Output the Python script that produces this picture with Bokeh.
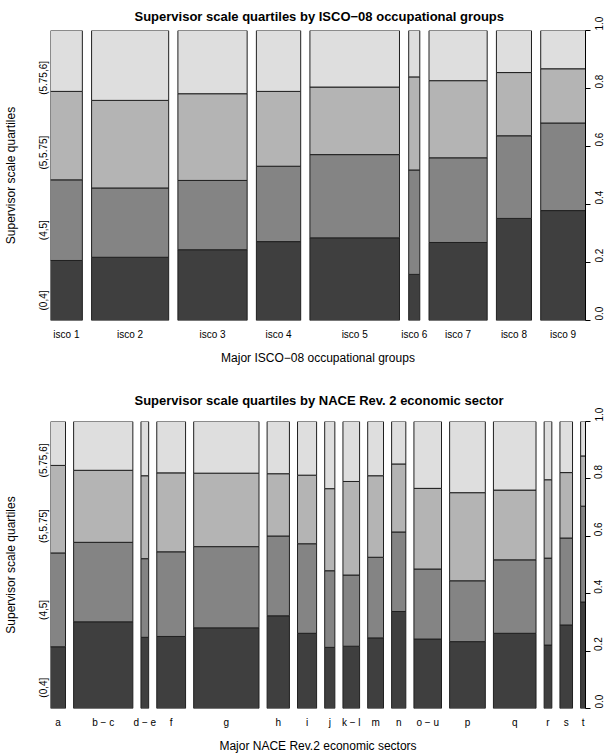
import math
from bokeh.plotting import figure
from bokeh.models import Range1d, LinearAxis, FixedTicker, PrintfTickFormatter
from bokeh.layouts import column
from bokeh.embed import file_html
from bokeh.resources import INLINE

# ---------------- data ----------------
quartile_labels = ["(0,4]", "(4,5]", "(5,5.75]", "(5.75,6]"]
quartile_colors = ["#3f3f3f", "#848484", "#b4b4b4", "#dedede"]

isco_groups = ["isco 1", "isco 2", "isco 3", "isco 4", "isco 5",
               "isco 6", "isco 7", "isco 8", "isco 9"]
isco_share = [0.069, 0.167, 0.150, 0.096, 0.194, 0.024, 0.126, 0.076, 0.097]
isco_q1 = [0.207, 0.218, 0.244, 0.272, 0.285, 0.159, 0.269, 0.352, 0.379]
isco_q2 = [0.278, 0.239, 0.239, 0.260, 0.287, 0.360, 0.292, 0.285, 0.302]
isco_q3 = [0.305, 0.302, 0.299, 0.258, 0.233, 0.321, 0.266, 0.218, 0.187]
isco_q4 = [0.210, 0.241, 0.218, 0.210, 0.195, 0.160, 0.173, 0.145, 0.132]

nace_sectors = ["a", "b \u2212 c", "d \u2212 e", "f", "g", "h", "i", "j",
                "k \u2212 l", "m", "n", "o \u2212 u", "p", "q", "r", "s", "t"]
nace_share = [0.037, 0.146, 0.019, 0.071, 0.161, 0.055, 0.047, 0.025, 0.041,
              0.039, 0.035, 0.068, 0.088, 0.105, 0.019, 0.031, 0.012]
nace_q1 = [0.215, 0.302, 0.248, 0.251, 0.281, 0.323, 0.262, 0.213, 0.217,
           0.246, 0.338, 0.242, 0.233, 0.262, 0.221, 0.291, 0.371]
nace_q2 = [0.327, 0.277, 0.274, 0.295, 0.283, 0.278, 0.312, 0.267, 0.248,
           0.281, 0.277, 0.244, 0.212, 0.256, 0.303, 0.303, 0.334]
nace_q3 = [0.305, 0.251, 0.289, 0.275, 0.256, 0.217, 0.239, 0.286, 0.326,
           0.284, 0.237, 0.281, 0.307, 0.243, 0.273, 0.228, 0.175]
nace_q4 = [0.153, 0.170, 0.189, 0.179, 0.180, 0.182, 0.187, 0.234, 0.209,
           0.189, 0.148, 0.233, 0.248, 0.239, 0.203, 0.178, 0.120]

y_ticks = [0.0, 0.2, 0.4, 0.6, 0.8, 1.0]
FONT = "Liberation Sans"
OFF = 0.02
TXT = "black"


def spineplot(title, xlabel, cats, shares, qs, height, b_top, b_bottom,
              t_standoff, t_offset):
    n = len(cats)
    total = sum(shares)
    widths = [s / total for s in shares]
    lefts = []
    x = 0.0
    for w in widths:
        lefts.append(x)
        x += w + OFF
    rights = [l + w for l, w in zip(lefts, widths)]
    centers = [(l + r) / 2 for l, r in zip(lefts, rights)]
    xmax = 1 + OFF * (n - 1)

    p = figure(width=609, height=height, x_range=Range1d(0, xmax), y_range=Range1d(0, 1),
               output_backend="svg", toolbar_location=None,
               min_border_left=49, min_border_right=24,
               min_border_top=b_top, min_border_bottom=b_bottom)
    p.outline_line_color = None
    p.grid.visible = False

    cum = [0.0] * n
    for k in range(4):
        bottoms = list(cum)
        tops = [c + qs[k][i] for i, c in enumerate(cum)]
        if k == 3:
            tops = [1.0] * n
        p.quad(left=lefts, right=rights, bottom=bottoms, top=tops,
               fill_color=quartile_colors[k], line_color="#202020", line_width=1)
        cum = tops

    # title
    p.title.text = title
    p.title.align = "left"
    p.title.vertical_align = "top"
    p.title.offset = t_offset
    p.title.standoff = t_standoff
    p.title.text_font = FONT
    p.title.text_font_size = "13px"
    p.title.text_font_style = "bold"
    p.title.text_color = TXT

    # bottom axis: category labels at bar centres
    xa = p.xaxis[0]
    xa.ticker = FixedTicker(ticks=centers)
    xa.major_label_overrides = {c: lab for c, lab in zip(centers, cats)}
    xa.axis_line_color = None
    xa.major_tick_line_color = None
    xa.minor_tick_line_color = None
    xa.major_tick_out = 0
    xa.major_tick_in = 0
    xa.major_label_standoff = 8
    xa.major_label_text_font = FONT
    xa.major_label_text_font_size = "10px"
    xa.major_label_text_color = TXT
    xa.axis_label = xlabel
    xa.axis_label_text_font = FONT
    xa.axis_label_text_font_size = "12px"
    xa.axis_label_text_font_style = "normal"
    xa.axis_label_text_color = TXT
    xa.axis_label_standoff = 8

    # left axis: quartile labels at the middle of the first bar's segments
    first = [qs[k][0] for k in range(4)]
    mids = []
    c = 0.0
    for v in first:
        mids.append(c + v / 2)
        c += v
    ya = p.yaxis[0]
    ya.ticker = FixedTicker(ticks=mids)
    ya.major_label_overrides = {m: lab for m, lab in zip(mids, quartile_labels)}
    ya.axis_line_color = None
    ya.major_tick_line_color = None
    ya.minor_tick_line_color = None
    ya.major_tick_out = 0
    ya.major_tick_in = 0
    ya.major_label_orientation = math.pi / 2
    ya.major_label_standoff = 7
    ya.major_label_text_font = FONT
    ya.major_label_text_font_size = "10px"
    ya.major_label_text_color = TXT
    ya.axis_label = "Supervisor scale quartiles"
    ya.axis_label_text_font = FONT
    ya.axis_label_text_font_size = "12px"
    ya.axis_label_text_font_style = "normal"
    ya.axis_label_text_color = TXT
    ya.axis_label_standoff = 12

    # right axis: proportions
    ra = LinearAxis(ticker=FixedTicker(ticks=y_ticks),
                    formatter=PrintfTickFormatter(format="%.1f"))
    ra.major_tick_in = 0
    ra.major_tick_out = 5
    ra.minor_tick_line_color = None
    ra.axis_line_color = "black"
    ra.major_tick_line_color = "black"
    ra.major_label_orientation = math.pi / 2
    ra.major_label_standoff = 8
    ra.major_label_text_font = FONT
    ra.major_label_text_font_size = "10px"
    ra.major_label_text_color = TXT
    p.add_layout(ra, "right")
    return p


p1 = spineplot("Supervisor scale quartiles by ISCO\u221208 occupational groups",
               "Major ISCO\u221208 occupational groups",
               isco_groups, isco_share, [isco_q1, isco_q2, isco_q3, isco_q4],
               377, 30, 57, 10, 84)
p2 = spineplot("Supervisor scale quartiles by NACE Rev. 2 economic sector",
               "Major NACE Rev.2 economic sectors",
               nace_sectors, nace_share, [nace_q1, nace_q2, nace_q3, nace_q4],
               378, 44, 44, 23, 84)

layout = column(p1, p2, spacing=0)
open("out.html", "w").write(file_html(layout, INLINE))
